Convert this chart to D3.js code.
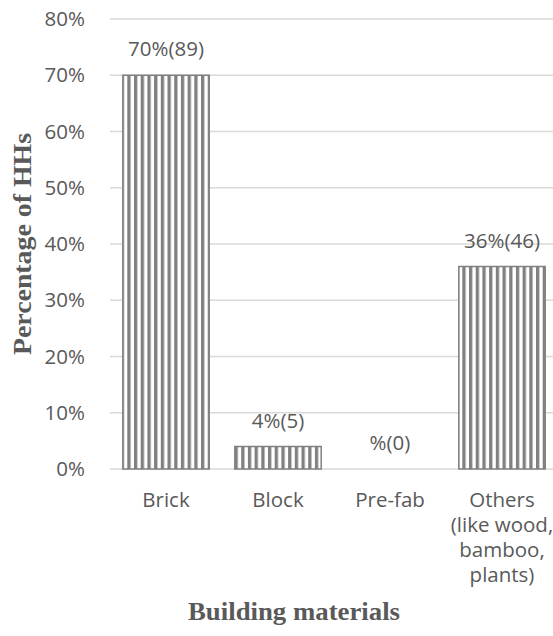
<!DOCTYPE html>
<html>

<head>
  <meta charset="utf8">
  <script src="https://d3js.org/d3.v7.min.js"></script>
  <style>
    body { margin: 0; background: #fff; }
    text { fill: #595959; }
    .tick text { font-family: "Open Sans", sans-serif; font-size: 20.5px; }
    .title { font-family: "Liberation Serif", serif; font-weight: bold; font-size: 25px; }
  </style>
</head>

<body>
  <svg id="chart" width="553" height="636"></svg>

  <script>
    var categories = ['Brick', 'Block', 'Pre-fab', 'Others (like wood, bamboo, plants)'];
    var categoryLines = [['Brick'], ['Block'], ['Pre-fab'], ['Others', '(like wood,', 'bamboo,', 'plants)']];
    var percents = [70, 4, 0, 36];
    var counts = [89, 5, 0, 46];
    var valueLabels = ['70%(89)', '4%(5)', '%(0)', '36%(46)'];
    var yTicks = [0, 10, 20, 30, 40, 50, 60, 70, 80];

    var chart = d3.select('#chart');
    var plotLeft = 110, plotRight = 558, plotTop = 19, plotBottom = 469;
    var labelFont = '"Open Sans", sans-serif';
    var labelSize = '20.5px';

    var x = d3.scaleBand()
      .domain(categories)
      .range([plotLeft, plotRight])
      .paddingInner(0.22)
      .paddingOuter(0.11);

    var y = d3.scaleLinear()
      .domain([0, 80])
      .range([plotBottom, plotTop]);

    // vertical stripe fill like the original
    var pattern = chart.append('defs').append('pattern')
      .attr('id', 'stripes')
      .attr('patternUnits', 'userSpaceOnUse')
      .attr('width', 6.7)
      .attr('height', 10);
    pattern.append('rect').attr('width', 6.7).attr('height', 10).attr('fill', '#fff');
    pattern.append('rect').attr('x', 0).attr('width', 3.3).attr('height', 10).attr('fill', '#808080');

    // gridlines
    chart.append('g')
      .selectAll('line')
      .data(yTicks)
      .join('line')
      .attr('x1', plotLeft)
      .attr('x2', 553)
      .attr('y1', (d) => y(d))
      .attr('y2', (d) => y(d))
      .attr('stroke', '#d9d9d9')
      .attr('stroke-width', 1.3);

    // y axis labels
    chart.append('g')
      .attr('transform', 'translate(' + (plotLeft - 22) + ',0)')
      .call(d3.axisLeft(y).tickValues(yTicks).tickFormat((d) => d + '%').tickSize(0))
      .call((g) => g.select('.domain').remove())
      .call((g) => g.selectAll('.tick text').attr('fill', '#595959'));

    // bars
    var bars = categories.map((c, i) => ({ cat: c, value: percents[i], label: valueLabels[i], lines: categoryLines[i] }));

    chart.append('g')
      .selectAll('rect')
      .data(bars.filter((d) => d.value > 0))
      .join('rect')
      .attr('x', (d) => x(d.cat) + 0.5)
      .attr('y', (d) => y(d.value))
      .attr('width', x.bandwidth() - 1)
      .attr('height', (d) => y(0) - y(d.value))
      .attr('fill', 'url(#stripes)')
      .attr('stroke', '#808080')
      .attr('stroke-width', 1.5);

    // value labels
    chart.append('g')
      .selectAll('text')
      .data(bars)
      .join('text')
      .attr('x', (d) => x(d.cat) + x.bandwidth() / 2)
      .attr('y', (d) => y(d.value) - 19)
      .attr('text-anchor', 'middle')
      .style('font-family', labelFont)
      .style('font-size', labelSize)
      .text((d) => d.label);

    // category labels
    chart.append('g')
      .selectAll('text')
      .data(bars)
      .join('text')
      .attr('x', (d) => x(d.cat) + x.bandwidth() / 2)
      .attr('y', 507)
      .attr('text-anchor', 'middle')
      .style('font-family', labelFont)
      .style('font-size', labelSize)
      .selectAll('tspan')
      .data((d) => d.lines)
      .join('tspan')
      .attr('x', function () { return d3.select(this.parentNode).attr('x'); })
      .attr('dy', (d, i) => (i === 0 ? 0 : 25))
      .text((d) => d);

    // axis titles
    chart.append('text')
      .attr('class', 'title')
      .attr('x', 294)
      .attr('y', 620)
      .attr('text-anchor', 'middle')
      .attr('textLength', 212)
      .attr('lengthAdjust', 'spacingAndGlyphs')
      .text('Building materials');

    chart.append('text')
      .attr('class', 'title')
      .attr('transform', 'translate(31,244) rotate(-90)')
      .attr('text-anchor', 'middle')
      .attr('textLength', 222)
      .attr('lengthAdjust', 'spacingAndGlyphs')
      .text('Percentage of HHs');
  </script>
</body>

</html>
